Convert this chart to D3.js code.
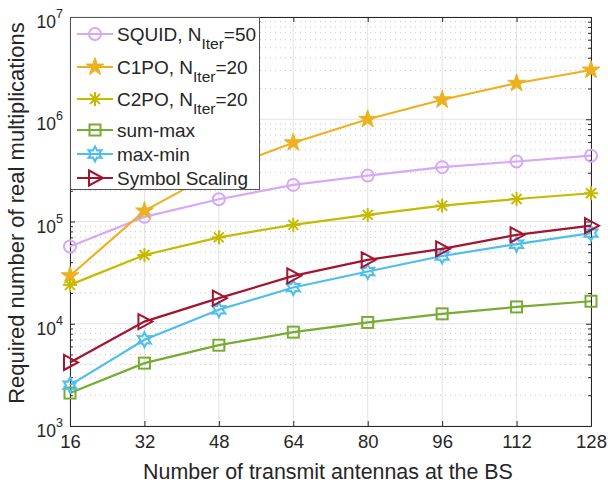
<!DOCTYPE html>
<html lang="en">
<head>
<meta charset="UTF-8">
<title>multiplications</title>
<style>
  body { margin: 0; background: #fff; }
  text { font-family: "Liberation Sans", Arial, sans-serif; fill: #262626; }
</style>
</head>
<body>
<script src="https://cdn.jsdelivr.net/npm/d3@7"></script>
<script>
// data
var antennas = [16, 32, 48, 64, 80, 96, 112, 128]
var squid = [57000, 111000, 165000, 228000, 281000, 340000, 386000, 440000]
var c1po = [29500, 127000, 316000, 590000, 1000000, 1550000, 2250000, 3030000]
var c2po = [24000, 47000, 70000, 92600, 116000, 143000, 166000, 189000]
var sumMax = [2100, 4120, 6170, 8280, 10300, 12500, 14600, 16600]
var maxMin = [2510, 6970, 13700, 22600, 32400, 46000, 60000, 77000]
var symbolScaling = [4180, 10500, 17800, 29400, 42200, 54000, 74000, 91000]
var xTicks = [16, 32, 48, 64, 80, 96, 112, 128]
var yTicks = [1e3, 1e4, 1e5, 1e6, 1e7]
var yExponents = ['3', '4', '5', '6', '7']
var legendLabels = [
  ['SQUID, N', 'Iter', '=50'],
  ['C1PO, N', 'Iter', '=20'],
  ['C2PO, N', 'Iter', '=20'],
  ['sum-max'],
  ['max-min'],
  ['Symbol Scaling']
]

var width = 608, height = 485
var box = { left: 70, right: 591, top: 17, bottom: 426 }

var svg = d3.select('body').append('svg')
  .attr('width', width).attr('height', height)

var x = d3.scaleLinear().domain([16, 128]).range([box.left, box.right])
var y = d3.scaleLog().domain([1e3, 1e7]).range([box.bottom, box.top])

var series = [
  { values: squid, color: '#d7a8f8', marker: 'circle' },
  { values: c1po, color: '#edb120', marker: 'star' },
  { values: c2po, color: '#c4bb00', marker: 'asterisk' },
  { values: sumMax, color: '#77ac30', marker: 'square' },
  { values: maxMin, color: '#4dbeee', marker: 'hexagram' },
  { values: symbolScaling, color: '#a2142f', marker: 'triangle' }
]

// grid
var grid = svg.append('g')
var minor = []
for (var e = 3; e < 7; e++) for (var k = 2; k <= 9; k++) minor.push(k * Math.pow(10, e))
grid.selectAll('.minor').data(minor).enter().append('line')
  .attr('x1', box.left).attr('x2', box.right)
  .attr('y1', d => y(d)).attr('y2', d => y(d))
  .attr('stroke', '#c8c8c8').attr('stroke-width', 1)
  .attr('stroke-dasharray', '1,4')
grid.selectAll('.vx').data(xTicks).enter().append('line')
  .attr('x1', d => x(d)).attr('x2', d => x(d))
  .attr('y1', box.top).attr('y2', box.bottom)
  .attr('stroke', '#e3e3e3').attr('stroke-width', 1)
grid.selectAll('.hy').data(yTicks).enter().append('line')
  .attr('x1', box.left).attr('x2', box.right)
  .attr('y1', d => y(d)).attr('y2', d => y(d))
  .attr('stroke', '#e3e3e3').attr('stroke-width', 1)

// axes (ticks inside, box on)
var axisColor = '#262626'
var xb = svg.append('g').attr('transform', 'translate(0,' + box.bottom + ')')
  .call(d3.axisBottom(x).tickValues(xTicks).tickSize(-5).tickPadding(9).tickFormat(d3.format('d')))
svg.append('g').attr('transform', 'translate(0,' + box.top + ')')
  .call(d3.axisTop(x).tickValues(xTicks).tickSize(-5).tickFormat(''))
svg.append('g').attr('transform', 'translate(' + box.left + ',0)')
  .call(d3.axisLeft(y).tickValues(yTicks).tickSize(-5).tickFormat(''))
svg.append('g').attr('transform', 'translate(' + box.right + ',0)')
  .call(d3.axisRight(y).tickValues(yTicks).tickSize(-5).tickFormat(''))
svg.append('g').attr('transform', 'translate(' + box.left + ',0)')
  .call(d3.axisLeft(y).tickValues(minor).tickSize(-3).tickFormat(''))
  .select('.domain').remove()
svg.append('g').attr('transform', 'translate(' + box.right + ',0)')
  .call(d3.axisRight(y).tickValues(minor).tickSize(-3).tickFormat(''))
  .select('.domain').remove()
svg.selectAll('.domain, .tick line').attr('stroke', axisColor)
xb.selectAll('text').attr('font-size', 18.5).attr('fill', axisColor)
  .attr('font-family', '"Liberation Sans", Arial, sans-serif')

// y tick labels 10^n
yTicks.forEach(function (v, i) {
  var t = svg.append('text')
    .attr('x', box.left - 7).attr('y', y(v) + 11)
    .attr('text-anchor', 'end').attr('font-size', 17.5)
  t.append('tspan').text('10')
  t.append('tspan').attr('dy', -10).attr('font-size', 12.5).text(yExponents[i])
})

// lines + markers
var line = d3.line().x((d, i) => x(antennas[i])).y(d => y(d))
var plot = svg.append('g')

function drawMarker(g, type, color, cx, cy) {
  var m = g.append('g').attr('transform', 'translate(' + cx + ',' + cy + ')')
  if (type === 'circle') {
    m.append('circle').attr('r', 6).attr('fill', 'none')
      .attr('stroke', color).attr('stroke-width', 2)
  } else if (type === 'star') {
    m.append('path').attr('d', d3.symbol(d3.symbolStar, 100)())
      .attr('fill', color).attr('stroke', color).attr('stroke-width', 1)
  } else if (type === 'asterisk') {
    [[-7, 0, 7, 0], [0, -7, 0, 7], [-5, -5, 5, 5], [-5, 5, 5, -5]].forEach(function (s) {
      m.append('line').attr('x1', s[0]).attr('y1', s[1]).attr('x2', s[2]).attr('y2', s[3])
        .attr('stroke', color).attr('stroke-width', 2)
    })
  } else if (type === 'square') {
    m.append('rect').attr('x', -5.5).attr('y', -5.5).attr('width', 11).attr('height', 11)
      .attr('fill', 'none').attr('stroke', color).attr('stroke-width', 2)
  } else if (type === 'hexagram') {
    var pts = d3.range(12).map(function (i) {
      var a = -Math.PI / 2 + i * Math.PI / 6, r = i % 2 ? 4 : 7.5
      return [r * Math.cos(a), r * Math.sin(a)]
    })
    m.append('path').attr('d', 'M' + pts.join('L') + 'Z')
      .attr('fill', 'none').attr('stroke', color).attr('stroke-width', 2)
  } else if (type === 'triangle') {
    m.append('path').attr('d', 'M-6,-7.5L8,0L-6,7.5Z')
      .attr('fill', 'none').attr('stroke', color).attr('stroke-width', 2)
  }
}

series.forEach(function (s) {
  plot.append('path').datum(s.values).attr('d', line)
    .attr('fill', 'none').attr('stroke', s.color).attr('stroke-width', 2.2)
  s.values.forEach(function (v, i) {
    drawMarker(plot, s.marker, s.color, x(antennas[i]), y(v))
  })
})

// legend
var lg = svg.append('g')
lg.append('rect').attr('x', box.left + 0.5).attr('y', box.top + 0.5)
  .attr('width', 189).attr('height', 172)
  .attr('fill', '#fff').attr('stroke', '#555').attr('stroke-width', 1)
var rowY = [34, 67, 99, 130, 154, 178]
series.forEach(function (s, i) {
  var ly = rowY[i]
  lg.append('line').attr('x1', 77).attr('x2', 113).attr('y1', ly).attr('y2', ly)
    .attr('stroke', s.color).attr('stroke-width', 2.2)
  drawMarker(lg, s.marker, s.color, 95, ly)
  var t = lg.append('text').attr('x', 117).attr('y', ly + 7).attr('font-size', 19)
    .attr('fill', '#000')
  var parts = legendLabels[i]
  t.append('tspan').text(parts[0])
  if (parts.length > 1) {
    t.append('tspan').attr('dy', 8).attr('font-size', 15.5).text(parts[1])
    t.append('tspan').attr('dy', -8).text(parts[2])
  }
})

// axis labels
svg.append('text')
  .attr('x', 328).attr('y', 479)
  .attr('text-anchor', 'middle').attr('font-size', 21.4)
  .text('Number of transmit antennas at the BS')
svg.append('text')
  .attr('transform', 'translate(24,213) rotate(-90)')
  .attr('text-anchor', 'middle').attr('font-size', 22)
  .text('Required number of real multiplications')
</script>
</body>
</html>
